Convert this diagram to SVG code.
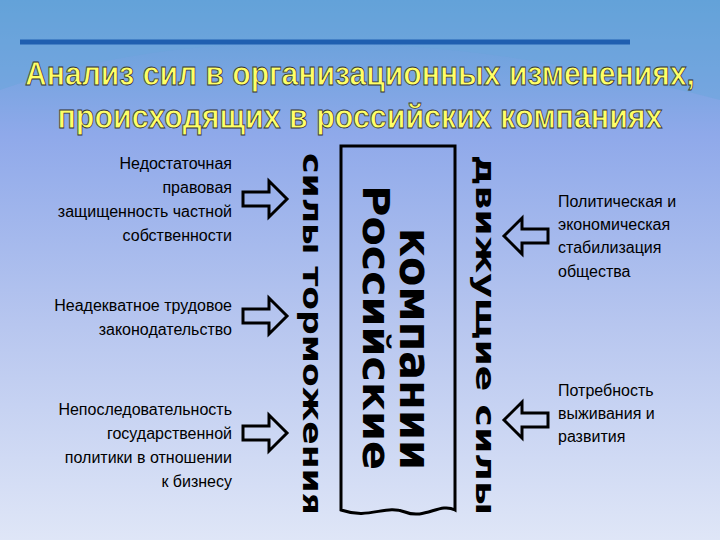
<svg xmlns="http://www.w3.org/2000/svg" width="720" height="540" viewBox="0 0 720 540">
<defs>
<linearGradient id="bg" x1="0" y1="0" x2="0" y2="1">
<stop offset="0" stop-color="#5d9fd6"/><stop offset="0.25" stop-color="#8fa9ea"/><stop offset="0.6" stop-color="#b7c6ef"/><stop offset="1" stop-color="#dfe6f7"/>
</linearGradient>
<path id="ar" d="M0,-7 H26 V-18 L44,0 L26,18 V7 H0 Z"/>
</defs>
<style>
.t{font-family:"Liberation Sans",Arial,sans-serif;font-size:16px;fill:#000}
.ttl{font-family:"Liberation Sans",Arial,sans-serif;font-weight:bold;font-size:33px;fill:#ffff66;stroke:#333;stroke-width:0.8;text-anchor:middle}
.v{font-family:"DejaVu Sans",sans-serif;font-weight:bold;fill:#000}
.a{fill:none;stroke:#000;stroke-width:3}
</style>
<rect width="720" height="540" fill="url(#bg)"/>
<path d="M0,90 C200,20 450,30 720,100 L720,0 L0,0Z" fill="#6aa6dc" opacity="0.5"/>
<line x1="20" y1="42" x2="630" y2="42" stroke="#1f5fb0" stroke-width="5"/>
<g id="title">
<text class="ttl" x="360" y="85" textLength="670" lengthAdjust="spacingAndGlyphs">Анализ сил в организационных изменениях,</text>
<text class="ttl" x="360" y="128" textLength="605" lengthAdjust="spacingAndGlyphs">происходящих в российских компаниях</text>
</g>
<g id="center">
<path d="M341,146 H455 V510 C440,502 425,520 405,512 C385,504 370,520 341,510 Z" fill="none" stroke="#000" stroke-width="3"/>
<text class="v" font-size="44" transform="translate(400,228) rotate(90)" textLength="242" lengthAdjust="spacingAndGlyphs">компании</text>
<text class="v" font-size="38" transform="translate(363,185) rotate(90)" textLength="285" lengthAdjust="spacingAndGlyphs">Российские</text>
</g>
<g id="brake"><text class="v" font-size="27" transform="translate(303,153) rotate(90)" textLength="362" lengthAdjust="spacingAndGlyphs">силы торможения</text></g>
<g id="drive"><text class="v" font-size="27" transform="translate(476,155) rotate(90)" textLength="360" lengthAdjust="spacingAndGlyphs">движущие силы</text></g>
<g id="n1"><text class="t" text-anchor="end"><tspan x="232" y="169">Недостаточная</tspan><tspan x="232" y="193">правовая</tspan><tspan x="232" y="217">защищенность частной</tspan><tspan x="232" y="241">собственности</tspan></text></g>
<g id="n2"><text class="t" text-anchor="end"><tspan x="232" y="311">Неадекватное трудовое</tspan><tspan x="232" y="335">законодательство</tspan></text></g>
<g id="n3"><text class="t" text-anchor="end"><tspan x="232" y="415">Непоследовательность</tspan><tspan x="232" y="439">государственной</tspan><tspan x="232" y="463">политики в отношении</tspan><tspan x="232" y="487">к бизнесу</tspan></text></g>
<g id="n4"><text class="t"><tspan x="558" y="207">Политическая и</tspan><tspan x="558" y="230">экономическая</tspan><tspan x="558" y="253">стабилизация</tspan><tspan x="558" y="277">общества</tspan></text></g>
<g id="n5"><text class="t"><tspan x="558" y="396">Потребность</tspan><tspan x="558" y="419">выживания и</tspan><tspan x="558" y="442">развития</tspan></text></g>
<g id="connectors">
<use href="#ar" class="a" transform="translate(243,199)"/>
<use href="#ar" class="a" transform="translate(243,316)"/>
<use href="#ar" class="a" transform="translate(243,433)"/>
<use href="#ar" class="a" transform="translate(548,236) scale(-1,1)"/>
<use href="#ar" class="a" transform="translate(548,420) scale(-1,1)"/>
</g>
</svg>
